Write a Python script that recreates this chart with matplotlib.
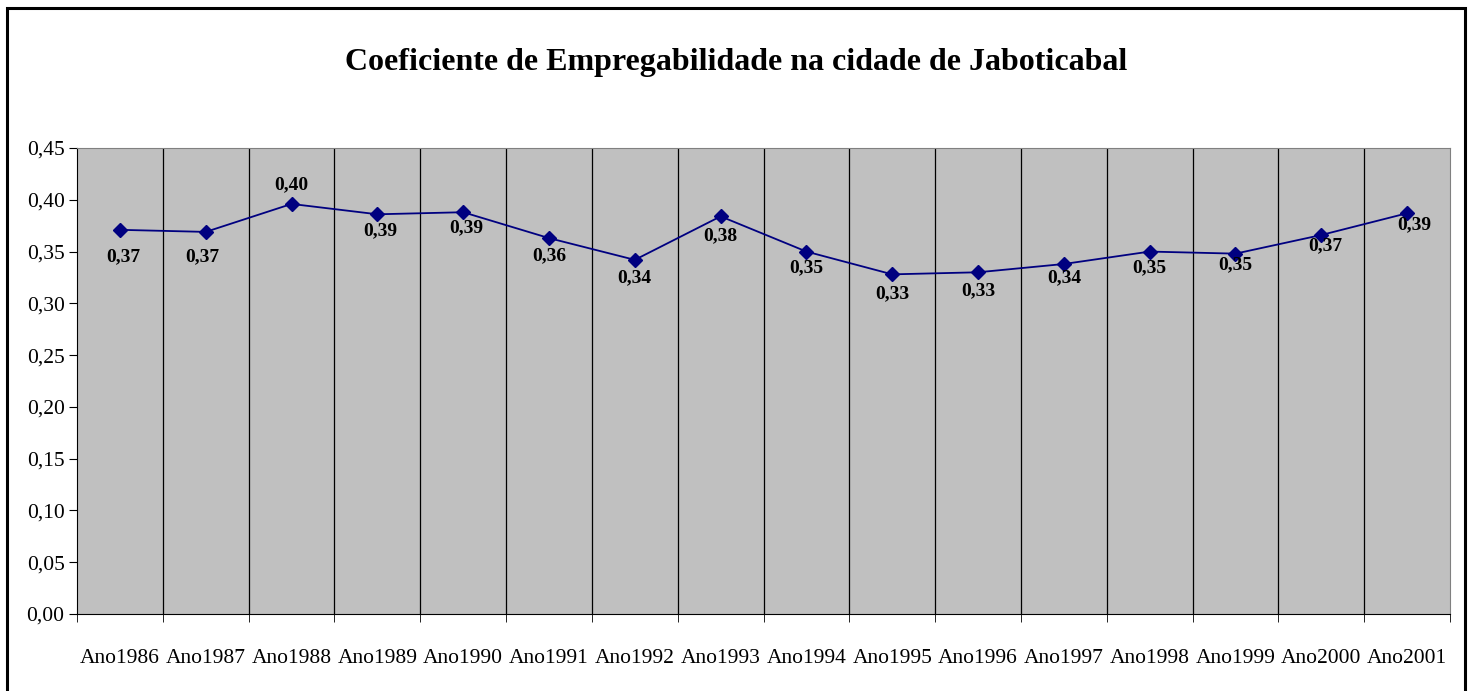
import numpy as np
import matplotlib.pyplot as plt
from matplotlib.patches import Rectangle

anos = ["Ano1986", "Ano1987", "Ano1988", "Ano1989", "Ano1990", "Ano1991",
        "Ano1992", "Ano1993", "Ano1994", "Ano1995", "Ano1996", "Ano1997",
        "Ano1998", "Ano1999", "Ano2000", "Ano2001"]
coef = [0.371, 0.369, 0.396, 0.386, 0.388, 0.363, 0.342, 0.384,
        0.350, 0.328, 0.330, 0.338, 0.350, 0.348, 0.366, 0.387]
y_ticks = [0.00, 0.05, 0.10, 0.15, 0.20, 0.25, 0.30, 0.35, 0.40, 0.45]

# label offsets in pixels (dx, dy) relative to each point
label_dx = [3, -3, 0, 3, 3, 0, 0, 0, 0, 0, 0, 0, 0, 0, 4, 7]
label_dy = [-27, -25, 19, -16, -16, -18, -18, -19, -16, -19, -18, -14, -16, -11, -11, -11]

plt.rcParams["font.family"] = ["Liberation Serif", "DejaVu Serif"]

fig = plt.figure(figsize=(14.73, 6.91), dpi=100)
ax = fig.add_axes([0.0523, 0.1114, 0.9321, 0.6744])
ax.set_facecolor("#c0c0c0")

x = np.arange(len(anos))
ax.plot(x, coef, color="#000080", lw=1.3, marker="D", ms=7, mfc="#000080", mec="#000080")

for i, v in enumerate(coef):
    txt = ("%.2f" % v).replace(".", ",")
    ax.annotate(txt, (x[i], v), xytext=(label_dx[i] * 0.72, label_dy[i] * 0.72),
                textcoords="offset points", ha="center", va="center",
                fontsize=14, fontweight="bold")

ax.set_xlim(-0.5, len(anos) - 0.5)
ax.set_ylim(0, 0.45)
ax.set_yticks(y_ticks)
ax.set_yticklabels([("%.2f" % t).replace(".", ",") for t in y_ticks], fontsize=15.5)
ax.set_xticks(x)
ax.set_xticklabels(anos, fontsize=15.5)
ax.tick_params(axis="x", length=0, pad=25)
ax.tick_params(axis="y", length=6, direction="out", color="#000000", pad=3)
ax.set_xticks(np.arange(-0.5, len(anos)), minor=True)
ax.tick_params(axis="x", which="minor", length=6, direction="out", color="#000000")
for b in np.arange(0.5, len(anos) - 1):
    ax.axvline(b, color="#000000", lw=0.9, zorder=1)

for s in ["top", "right"]:
    ax.spines[s].set_color("#808080")
ax.spines["left"].set_color("#000000")
ax.spines["bottom"].set_color("#000000")

fig.text(0.5, 0.91, "Coeficiente de Empregabilidade na cidade de Jaboticabal",
         ha="center", va="center", fontsize=23, fontweight="bold")

fig.patches.append(Rectangle((0.0045, -0.02), 0.99, 1.008, transform=fig.transFigure,
                             fill=False, edgecolor="black", lw=2.2))

fig.savefig("out.png", dpi=100)
